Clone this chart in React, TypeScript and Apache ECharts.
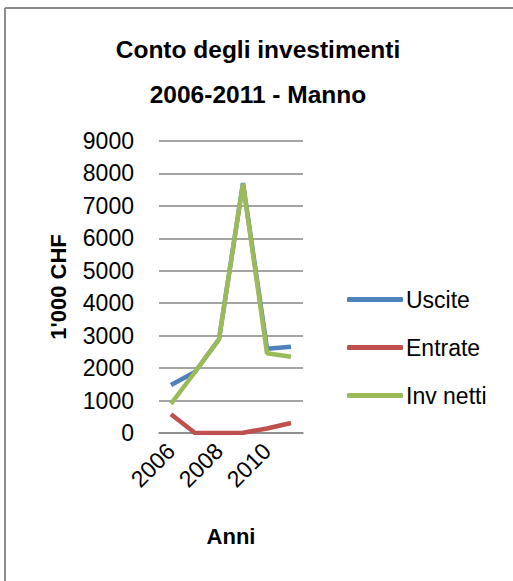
import React, { useEffect, useRef } from "react";
import * as echarts from "echarts";

const categories = ["2006", "2007", "2008", "2009", "2010", "2011"];
const uscite = [1480, 1880, 2890, 7700, 2600, 2660];
const entrate = [580, 0, 0, 10, 140, 310];
const invNetti = [900, 1880, 2890, 7690, 2460, 2350];
const titleText = "Conto degli investimenti\n2006-2011 - Manno";

const FONT = "Liberation Sans";

export default function App() {
  const ref = useRef<HTMLDivElement>(null);
  useEffect(() => {
    document.body.style.margin = "0";
    const chart = echarts.init(ref.current!, null, { renderer: "svg" });
    chart.setOption({
      animation: false,
      backgroundColor: "#ffffff",
      title: {
        text: titleText,
        left: 253,
        textAlign: "center",
        top: 22,
        textStyle: {
          fontFamily: FONT,
          fontSize: 24.5,
          fontWeight: "bold",
          color: "#000",
          lineHeight: 45,
        },
      },
      graphic: [
        { type: "line", shape: { x1: 5, y1: 8, x2: 513, y2: 8 }, style: { stroke: "#8a8a8a", lineWidth: 2 } },
        { type: "line", shape: { x1: 5, y1: 8, x2: 5, y2: 581 }, style: { stroke: "#8a8a8a", lineWidth: 2 } },
      ],
      legend: {
        orient: "vertical",
        left: 342,
        top: 283,
        itemWidth: 56,
        itemHeight: 5,
        itemGap: 25,
        icon: "roundRect",
        data: [
          { name: "Uscite", itemStyle: { color: "#4F81BD" } },
          { name: "Entrate", itemStyle: { color: "#C0504D" } },
          { name: "Inv netti", itemStyle: { color: "#9BBB59" } },
        ],
        textStyle: { fontFamily: FONT, fontSize: 23, color: "#000", padding: [0, 0, 0, -2] },
      },
      grid: { left: 159, right: 210, top: 141, bottom: 148 },
      xAxis: {
        type: "category",
        data: categories,
        boundaryGap: true,
        name: "Anni",
        nameLocation: "middle",
        nameGap: 92,
        nameTextStyle: { fontFamily: FONT, fontSize: 22, fontWeight: "bold", color: "#000" },
        axisLine: { lineStyle: { color: "#868686", width: 1.5 } },
        axisTick: { show: false },
        axisLabel: {
          interval: 1,
          rotate: 45,
          margin: 14,
          fontFamily: FONT,
          fontSize: 23,
          color: "#000",
        },
      },
      yAxis: {
        type: "value",
        min: 0,
        max: 9000,
        interval: 1000,
        name: "1'000 CHF",
        nameLocation: "middle",
        nameGap: 90,
        nameTextStyle: { fontFamily: FONT, fontSize: 22, fontWeight: "bold", color: "#000" },
        axisLine: { show: false },
        axisTick: { show: false },
        axisLabel: { fontFamily: FONT, fontSize: 23, color: "#000", margin: 25, formatter: (v: number) => String(v) },
        splitLine: { lineStyle: { color: "#868686", width: 1.5 } },
      },
      series: [
        { name: "Uscite", type: "line", data: uscite, symbol: "none", lineStyle: { color: "#4F81BD", width: 4.5 }, itemStyle: { color: "#4F81BD" } },
        { name: "Entrate", type: "line", data: entrate, symbol: "none", lineStyle: { color: "#C0504D", width: 4.5 }, itemStyle: { color: "#C0504D" } },
        { name: "Inv netti", type: "line", data: invNetti, symbol: "none", lineStyle: { color: "#9BBB59", width: 4.5 }, itemStyle: { color: "#9BBB59" } },
      ],
    });
    return () => chart.dispose();
  }, []);
  return <div ref={ref} style={{ width: 513, height: 581 }} />;
}
